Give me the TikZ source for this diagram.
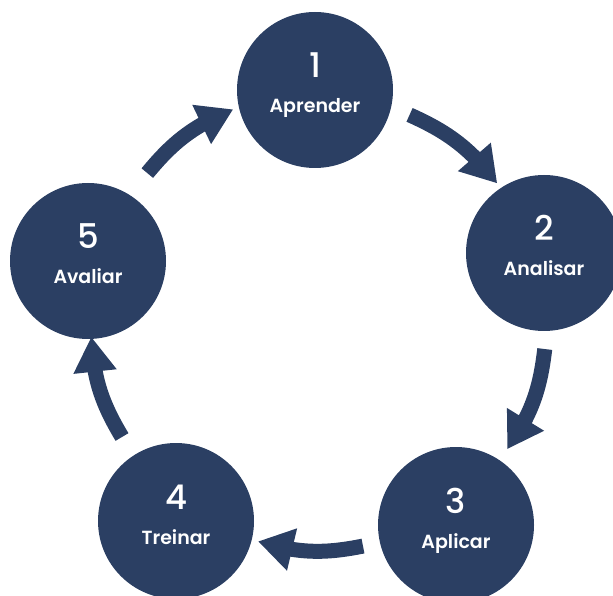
\documentclass[tikz,border=0pt]{standalone}
\usepackage{fontspec}
\setmainfont{Poppins}
\newfontfamily\numfont{Poppins Medium}
\newfontfamily\labelfont{Poppins SemiBold}
\usepackage{xcolor}
\usetikzlibrary{arrows.meta,bending}
\definecolor{navy}{HTML}{2B3F63}

\begin{document}
\begin{tikzpicture}[x=1pt,y=1pt,
    phase/.style={circle,fill=navy,minimum size=156pt,inner sep=0pt},
    phasenum/.style={anchor=base,text=white,font=\numfont\fontsize{34}{34}\selectfont},
    phasename/.style={anchor=base,text=white,font=\labelfont\fontsize{19}{19}\selectfont},
    cyclearrow/.style={navy,line width=15pt,-{Triangle[width=41pt,length=35pt]}}]
        \useasboundingbox (0,0) rectangle (613,595);
        % the five phases
        \node[phase] (c1) at (315,505) {};
        \node[phase] (c2) at (544,342) {};
        \node[phase] (c3) at (456,70) {};
        \node[phase] (c4) at (176,74) {};
        \node[phase] (c5) at (88,334) {};
        \node[phasenum] (n1) at ([yshift=12pt]c1.center) {1};
        \node[phasenum] (n2) at ([yshift=12pt]c2.center) {2};
        \node[phasenum] (n3) at ([yshift=12pt]c3.center) {3};
        \node[phasenum] (n4) at ([yshift=12pt]c4.center) {4};
        \node[phasenum] (n5) at ([yshift=12pt]c5.center) {5};
        \node[phasename] (l1) at ([yshift=-23pt]c1.center) {Aprender};
        \node[phasename] (l2) at ([yshift=-23pt]c2.center) {Analisar};
        \node[phasename] (l3) at ([yshift=-23pt]c3.center) {Aplicar};
        \node[phasename] (l4) at ([yshift=-23pt]c4.center) {Treinar};
        \node[phasename] (l5) at ([yshift=-23pt]c5.center) {Avaliar};
        % arrows round the cycle
        \coordinate (ctr) at (316,270);
        \coordinate (t12) at ([shift={(66:230)}]ctr);
        \coordinate (h12) at ([shift={(38:230)}]ctr);
        \coordinate (t23) at ([shift={(-6:230)}]ctr);
        \coordinate (h23) at ([shift={(-33:228)}]ctr);
        \coordinate (t34) at ([shift={(-78:226)}]ctr);
        \coordinate (h34) at ([shift={(-105:224)}]ctr);
        \coordinate (t45) at ([shift={(-150:224)}]ctr);
        \coordinate (h45) at ([shift={(-177:225)}]ctr);
        \coordinate (t51) at ([shift={(138:227)}]ctr);
        \coordinate (h51) at ([shift={(111:231)}]ctr);
        \draw[cyclearrow] (t12) to[bend left=14] (h12);
        \draw[cyclearrow] (t23) to[bend left=14] (h23);
        \draw[cyclearrow] (t34) to[bend left=14] (h34);
        \draw[cyclearrow] (t45) to[bend left=14] (h45);
        \draw[cyclearrow] (t51) to[bend left=14] (h51);
\end{tikzpicture}
\end{document}
